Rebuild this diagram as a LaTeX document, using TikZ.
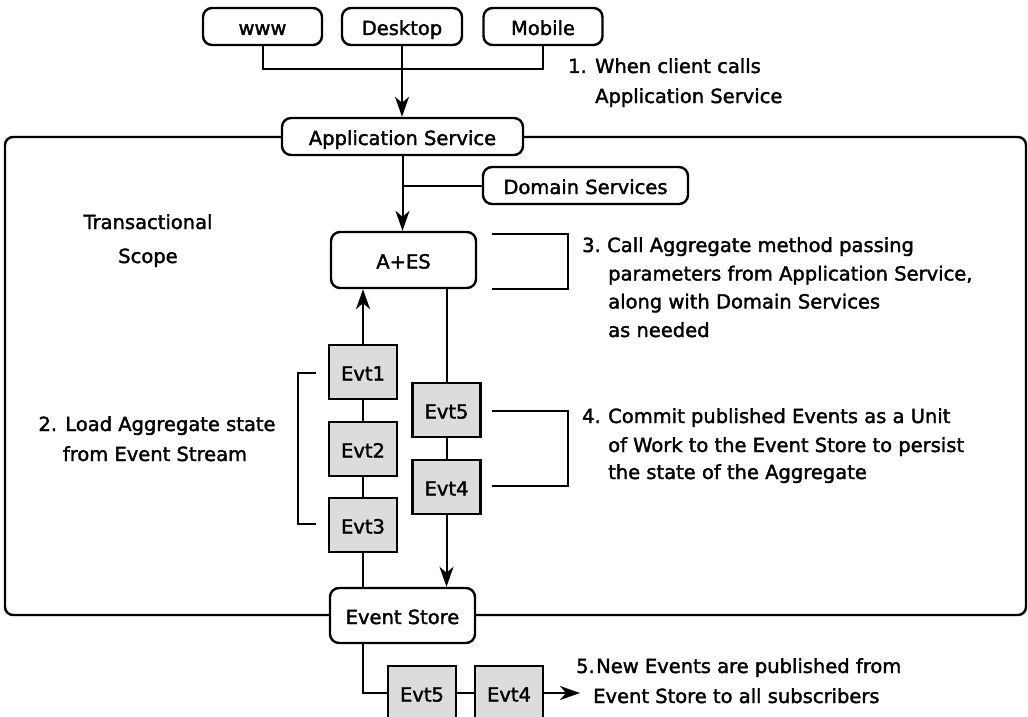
\documentclass[tikz,border=0pt]{standalone}
\usepackage{fontspec}
\setmainfont{DejaVu Sans}[FakeBold=1.8]
\usetikzlibrary{arrows.meta}
\definecolor{evtgray}{HTML}{DCDCDC}
\begin{document}
\begin{tikzpicture}[x=1pt,y=-1pt,
  every node/.style={font=\fontsize{19.5}{22}\selectfont},
  rbox/.style={draw, line width=2.4pt, rounded corners=9pt, fill=white, minimum height=37pt, inner sep=0pt, text height=19pt, text depth=2pt},
  evt/.style={draw, line width=2.4pt, fill=evtgray, minimum width=68pt, minimum height=54pt, inner sep=0pt, text height=19pt, text depth=2pt},
  conn/.style={line width=2pt},
  arr/.style={conn, -{Stealth[length=20pt,width=14pt,inset=6pt]}},
  txt/.style={anchor=base west, inner sep=0pt},
  ctxt/.style={anchor=base, inner sep=0pt},
]
\useasboundingbox (0,0) rectangle (1028,717);
\clip (0,0) rectangle (1028,717);

% transactional scope frame
\draw[line width=2.4pt, rounded corners=8pt] (5,137) rectangle (1026,615);

% nodes
\node[rbox, minimum width=119pt] (www) at (262.5,26.5) {www};
\node[rbox, minimum width=120pt] (desk) at (402,26.5) {Desktop};
\node[rbox, minimum width=119pt] (mob) at (543,26.5) {Mobile};
\node[rbox, minimum width=241pt] (as) at (402.5,136.5) {Application Service};
\node[rbox, minimum width=205pt] (ds) at (585.5,185.5) {Domain Services};
\node[rbox, minimum width=145pt, minimum height=56pt] (aes) at (403.5,260) {A+ES};
\node[evt] (e1) at (363,372) {Evt1};
\node[evt] (e2) at (363,449) {Evt2};
\node[evt] (e3) at (363,525) {Evt3};
\node[evt] (e5) at (446.5,410) {Evt5};
\node[evt] (e4) at (446.5,487) {Evt4};
\node[rbox, minimum width=145pt, minimum height=55pt] (es) at (402.5,615.5) {Event Store};
\node[evt] (p5) at (422,693) {Evt5};
\node[evt] (p4) at (509,693) {Evt4};

% connectors
\path (desk.south) ++(0,23) coordinate (j);
\draw[conn] (www.south) |- (j) -| (mob.south);
\draw[arr] (desk.south) -- (desk.south |- as.north);
\draw[arr] (as.south) -- (as.south |- aes.north);
\draw[conn] (ds.west) -- (ds.west -| as.south);
\draw[arr] (e1.north) -- (e1.north |- aes.south);
\draw[conn] (e1) -- (e2);
\draw[conn] (e2) -- (e3);
\draw[conn] (e3.south) -- (e3.south |- es.north);
\draw[conn] (e5.north |- aes.south) -- (e5.north);
\draw[conn] (e5) -- (e4);
\draw[arr] (e4.south) -- (e4.south |- es.north);
\draw[conn] (es.south -| e3.south) |- (p5.west);
\draw[conn] (p5) -- (p4);
\coordinate (out) at (580,693);
\draw[arr] (p4.east) -- (out);

% brackets
\draw[conn] (492,234) -| (568,289) -- (492,289);
\draw[conn] (492,411) -| (568,486) -- (492,486);
\draw[conn] (316,373) -| (298,524) -- (316,524);

% texts
\node[txt] (t1a) at (568,73) {\makebox[27pt][l]{1.}When client calls};
\node[txt] (t1b) at (595,103) {Application Service};
\node[ctxt] (tsa) at (148,229) {Transactional};
\node[ctxt] (tsb) at (148,263) {Scope};
\node[txt] (t3a) at (582,252) {\makebox[25pt][l]{3.}Call Aggregate method passing};
\node[txt] (t3b) at (608,280.5) {parameters from Application Service,};
\node[txt] (t3c) at (608,308.5) {along with Domain Services};
\node[txt] (t3d) at (608,337) {as needed};
\node[ctxt] (t2a) at (157,431) {2. Load Aggregate state};
\node[ctxt] (t2b) at (155,461) {from Event Stream};
\node[txt] (t4a) at (582,423) {\makebox[26pt][l]{4.}Commit published Events as a Unit};
\node[txt] (t4b) at (608,452) {of Work to the Event Store to persist};
\node[txt] (t4c) at (608,479) {the state of the Aggregate};
\node[txt] (t5a) at (576,673) {\makebox[20pt][l]{5.}New Events are published from};
\node[txt] (t5b) at (593,703) {Event Store to all subscribers};
\end{tikzpicture}
\end{document}
